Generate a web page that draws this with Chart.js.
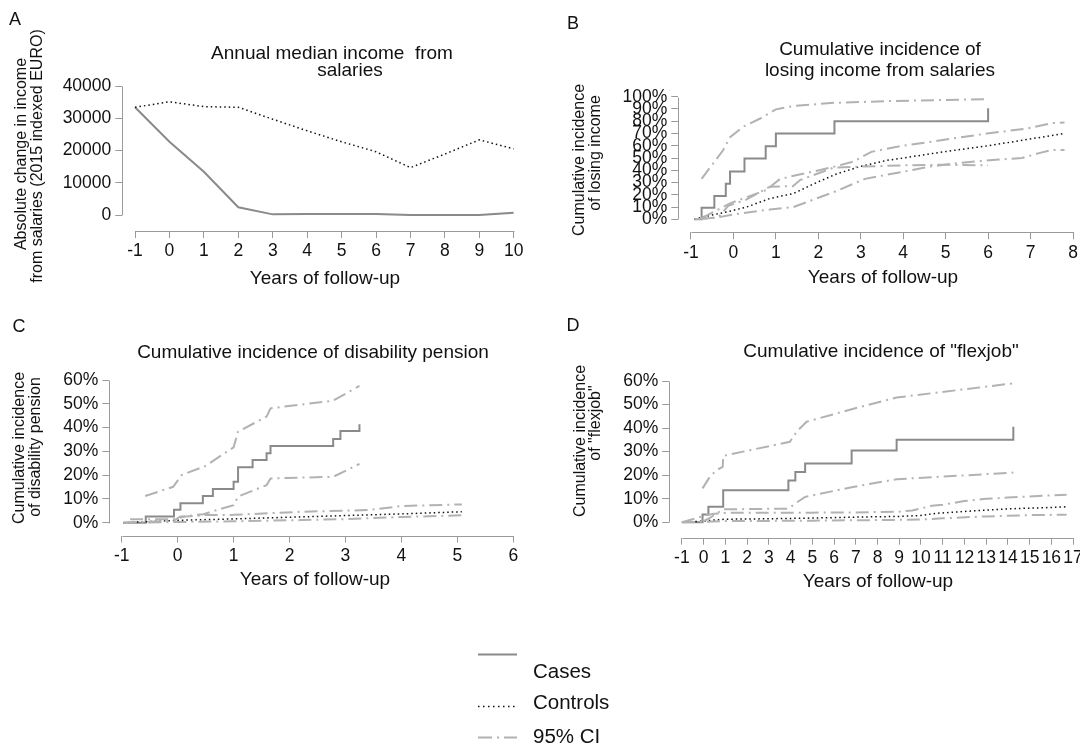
<!DOCTYPE html>
<html><head><meta charset="utf-8">
<script src="https://cdn.jsdelivr.net/npm/chart.js@4.4.1/dist/chart.umd.min.js"></script>
<style>
html,body{margin:0;padding:0;background:#fff;}
#wrap{position:relative;width:1080px;height:744px;overflow:hidden;font-family:"Liberation Sans",Arial,sans-serif;color:#111;}
canvas{position:absolute;left:0;top:0;}
.t{position:absolute;white-space:nowrap;transform:translate(-50%,-50%);line-height:1;}
.r{transform:translate(-50%,-50%) rotate(-90deg);}
.h{font-size:19px;}
.y{font-size:16px;}
.l{font-size:18px;}
.lg{position:absolute;white-space:nowrap;line-height:1;font-size:20.5px;transform:translate(0,-50%);}
svg{position:absolute;left:0;top:0;}
</style></head><body><div id="wrap">
<canvas id="cA" width="1080" height="744"></canvas>
<canvas id="cB" width="1080" height="744"></canvas>
<canvas id="cC" width="1080" height="744"></canvas>
<canvas id="cD" width="1080" height="744"></canvas>

<div class="t l" style="left:15px;top:19px">A</div>
<div class="t l" style="left:573px;top:23px">B</div>
<div class="t l" style="left:19px;top:326px">C</div>
<div class="t l" style="left:573px;top:325px">D</div>

<div class="t h" style="left:332px;top:52px">Annual median income&nbsp; from</div>
<div class="t h" style="left:350px;top:69px">salaries</div>
<div class="t h" style="left:880px;top:48px">Cumulative incidence of</div>
<div class="t h" style="left:880px;top:69px">losing income from salaries</div>
<div class="t h" style="left:313px;top:351px">Cumulative incidence of disability pension</div>
<div class="t h" style="left:881px;top:350px">Cumulative incidence of "flexjob"</div>

<div class="t h" style="left:325px;top:277px">Years of follow-up</div>
<div class="t h" style="left:883px;top:276px">Years of follow-up</div>
<div class="t h" style="left:315px;top:578px">Years of follow-up</div>
<div class="t h" style="left:878px;top:580px">Years of follow-up</div>

<div class="t y r" style="left:21px;top:154px">Absolute change in income</div>
<div class="t y r" style="left:37px;top:156px">from salaries (2015 indexed EURO)</div>
<div class="t y r" style="left:579px;top:160px">Cumulative incidence</div>
<div class="t y r" style="left:595px;top:153px">of losing income</div>
<div class="t y r" style="left:19px;top:448px">Cumulative incidence</div>
<div class="t y r" style="left:34.5px;top:447px">of disability pension</div>
<div class="t y r" style="left:580px;top:441px">Cumulative incidence</div>
<div class="t y r" style="left:595px;top:423px">of "flexjob"</div>

<svg width="1080" height="744">
<line x1="478" y1="654.5" x2="517" y2="654.5" stroke="#8a8a8a" stroke-width="2"/>
<line x1="478" y1="706.5" x2="517" y2="706.5" stroke="#111" stroke-width="1.5" stroke-dasharray="1.5 3.5"/>
<line x1="478" y1="737.5" x2="517" y2="737.5" stroke="#b2b2b2" stroke-width="2" stroke-dasharray="14 5 2 5"/>
</svg>
<div class="lg" style="left:533px;top:671px">Cases</div>
<div class="lg" style="left:533px;top:702px">Controls</div>
<div class="lg" style="left:533px;top:736px">95% CI</div>
</div>
<script>
// ---------- Panel A : annual median income ----------
const aYears    = [-1, 0, 1, 2, 3, 4, 5, 6, 7, 8, 9, 10];
const aCases    = [33400, 22700, 13400, 2400, 200, 300, 300, 300, 0, 0, 0, 700];
const aControls = [33400, 35100, 33600, 33400, 29700, 26100, 22700, 19600, 14700, 18900, 23300, 20500];
const aXTicks   = [-1, 0, 1, 2, 3, 4, 5, 6, 7, 8, 9, 10];
const aYTicks   = [0, 10000, 20000, 30000, 40000];

// ---------- Panel B : losing income from salaries ----------
const bXTicks = [-1, 0, 1, 2, 3, 4, 5, 6, 7, 8];
const bYTicks = [0, 10, 20, 30, 40, 50, 60, 70, 80, 90, 100];
const bCasesT = [-0.92, -0.75, -0.45, -0.18, -0.08, 0.26, 0.76, 1.0, 2.38, 6.0];
const bCasesP = [0, 9.5, 19, 29, 39, 49.5, 59.5, 70, 80, 90.5];
const bCasesHiT = [-0.75, -0.24, -0.08, 0.23, 0.62, 1.0, 1.41, 2.38, 3.76, 6.0];
const bCasesHiP = [33, 56.5, 67, 75.5, 82, 89.7, 92.4, 95, 96.5, 98];
const bCasesLoT = [-0.75, -0.36, -0.12, 0.3, 0.86, 1.4, 1.57, 2.35, 3.0, 4.0, 5.0, 6.0];
const bCasesLoP = [0.5, 1.5, 11, 16, 26.6, 27, 32, 42, 43, 44, 44.5, 44];
const bCtrlT = [-0.92, -0.71, -0.16, 0.31, 0.86, 1.41, 1.96, 2.43, 2.98, 3.6, 4.0, 4.94, 6.0, 6.9, 7.8];
const bCtrlP = [0, 2, 6, 10, 17, 21, 30, 37, 43, 48, 50, 55, 60, 65, 70];
const bCtrlHiT = [-0.75, -0.08, 0.78, 1.1, 1.88, 2.27, 2.82, 3.25, 3.99, 5.0, 5.97, 6.91, 7.52, 7.8];
const bCtrlHiP = [1, 13, 24, 33, 39, 42, 47, 55, 60, 65, 70, 74, 78.5, 79];
const bCtrlLoT = [-0.92, -0.36, 0.0, 0.86, 1.41, 2.35, 3.1, 4.0, 4.63, 5.33, 6.1, 6.8, 7.2, 7.5, 7.8];
const bCtrlLoP = [0, 1.6, 4, 8, 10, 22, 33, 38.8, 43, 46, 48.4, 50, 54, 56.5, 56.5];

// ---------- Panel C : disability pension ----------
const cXTicks = [-1, 0, 1, 2, 3, 4, 5, 6];
const cYTicks = [0, 10, 20, 30, 40, 50, 60];
const cCasesT = [-0.97, -0.57, -0.065, 0.05, 0.45, 0.63, 1.0, 1.08, 1.34, 1.59, 1.66, 2.78, 2.91, 3.25];
const cCasesP = [0, 2.6, 5.4, 8.2, 11.2, 14.2, 17.2, 23.3, 26.4, 29.2, 32.2, 35.2, 38.6, 41.4];
const cCasesHiT = [-0.58, -0.08, 0.07, 0.49, 1.0, 1.08, 1.59, 1.66, 2.78, 3.25];
const cCasesHiP = [11.2, 15.1, 20, 23.8, 31.7, 38.3, 44.6, 48.1, 51.3, 57.5];
const cCasesLoT = [-0.97, -0.07, 0.04, 0.46, 1.0, 1.08, 1.59, 1.66, 2.78, 3.25];
const cCasesLoP = [0, 0.8, 2.5, 3.6, 7.4, 11, 15.8, 18.6, 19.3, 24.7];
const cCtrlT = [-0.97, 0, 1, 2, 3, 4, 5.08];
const cCtrlP = [0, 1.0, 1.6, 2.3, 3.0, 3.7, 4.6];
const cCtrlHiT = [-0.85, -0.05, 0.1, 0.5, 1, 2.2, 3.4, 4.0, 5.08];
const cCtrlHiP = [1.4, 1.4, 2.5, 3.2, 3.3, 4.6, 5.3, 7.0, 7.7];
const cCtrlLoT = [-0.97, 0, 1, 2.2, 3, 4, 5.08];
const cCtrlLoP = [0, 0.3, 0.6, 1.1, 1.5, 2.4, 3.1];

// ---------- Panel D : flexjob ----------
const dXTicks = [-1, 0, 1, 2, 3, 4, 5, 6, 7, 8, 9, 10, 11, 12, 13, 14, 15, 16, 17];
const dYTicks = [0, 10, 20, 30, 40, 50, 60];
const dCasesT = [-1, -0.05, 0.22, 0.9, 3.9, 4.22, 4.67, 6.81, 8.88, 14.25];
const dCasesP = [0, 3.3, 6.6, 13.6, 17.7, 21.4, 25, 30.5, 35, 40.6];
const dCasesHiT = [-0.05, 0.29, 0.6, 0.88, 0.9, 3.97, 4.28, 4.74, 6.81, 8.88, 14.25];
const dCasesHiP = [14.4, 19.4, 22.2, 23.5, 28.2, 34.2, 38.5, 42.7, 48, 53, 59];
const dCasesLoT = [-0.05, 0.22, 0.9, 3.9, 4.22, 4.67, 6.81, 8.88, 14.25];
const dCasesLoP = [0.3, 1.5, 5.5, 5.8, 8, 10.8, 14.9, 18.3, 21.1];
const dCtrlT = [-1, 0, 0.5, 1, 3, 5, 7, 9, 10, 10.7, 12, 13, 14, 15, 16, 16.7];
const dCtrlP = [0, 0.5, 1.0, 1.3, 1.5, 1.8, 2.2, 2.5, 2.9, 3.8, 4.6, 5.2, 5.7, 6.0, 6.3, 6.6];
const dCtrlHiT = [-1, -0.1, 0.2, 0.5, 1, 3, 5, 7, 9, 9.6, 10.5, 11, 12, 13, 14, 15, 16.7];
const dCtrlHiP = [0, 2.4, 3.2, 3.6, 4.0, 4.1, 4.1, 4.2, 4.5, 5.0, 7.0, 7.5, 9.0, 10.0, 10.5, 11.0, 11.7];
const dCtrlLoT = [-1, 0, 1, 5, 8.7, 10, 11, 13, 15.2, 16.7];
const dCtrlLoP = [0, 0.2, 0.5, 0.7, 1.0, 1.2, 1.7, 2.5, 3.1, 3.2];

// ---------- rendering ----------
const FONT = '"Liberation Sans", Arial, sans-serif';
const AXC = '#9a9a9a';
const CASE = {borderColor: '#8a8a8a', borderWidth: 2};
const CTRL = {borderColor: '#111111', borderWidth: 1.5, borderDash: [1.5, 3]};
const CI   = {borderColor: '#b2b2b2', borderWidth: 2, borderDash: [13, 5, 2, 5]};

function xy(t, p) { return t.map((v, i) => ({x: v, y: p[i]})); }
function ds(t, p, style, stepped) {
  return Object.assign({data: xy(t, p), stepped: !!stepped, pointRadius: 0, borderCapStyle: 'butt', fill: false, tension: 0}, style);
}

const rAxes = {
  id: 'rAxes',
  afterDraw(chart) {
    const {ctx, chartArea: a, scales: {x, y}} = chart;
    const xs = x.ticks, ys = y.ticks;
    ctx.save();
    ctx.strokeStyle = AXC; ctx.lineWidth = 1; ctx.setLineDash([]);
    ctx.beginPath();
    const by = Math.round(a.bottom) + 0.5;
    ctx.moveTo(Math.round(x.getPixelForValue(xs[0].value)) + 0.5, by);
    ctx.lineTo(Math.round(x.getPixelForValue(xs[xs.length - 1].value)) + 0.5, by);
    const lx = Math.round(a.left) + 0.5;
    ctx.moveTo(lx, Math.round(y.getPixelForValue(ys[0].value)) + 0.5);
    ctx.lineTo(lx, Math.round(y.getPixelForValue(ys[ys.length - 1].value)) + 0.5);
    ctx.stroke();
    ctx.restore();
  }
};

function panel(id, area, xr, xt, yr, yt, yfmt, datasets) {
  const YW = 80, XH = 40;
  return new Chart(document.getElementById(id), {
    type: 'line',
    data: {datasets},
    options: {
      responsive: false, animation: false, devicePixelRatio: 1,
      layout: {padding: {left: area.l - YW, top: area.t, right: 1080 - area.r, bottom: 744 - area.b - XH}},
      plugins: {legend: {display: false}, tooltip: {enabled: false}, title: {display: false}},
      elements: {point: {radius: 0}, line: {tension: 0}},
      scales: {
        x: {
          type: 'linear', min: xr[0], max: xr[1],
          afterBuildTicks: s => { s.ticks = xt.map(v => ({value: v})); },
          afterFit: s => { s.height = XH; s.paddingLeft = 0; s.paddingRight = 0; },
          grid: {drawOnChartArea: false, drawTicks: true, tickLength: 7, color: AXC, lineWidth: 1},
          border: {display: false},
          ticks: {autoSkip: false, maxRotation: 0, minRotation: 0, padding: 3, color: '#111',
                  font: {family: FONT, size: 17.5}, callback: v => String(v)}
        },
        y: {
          type: 'linear', min: yr[0], max: yr[1],
          afterBuildTicks: s => { s.ticks = yt.map(v => ({value: v})); },
          afterFit: s => { s.width = YW; s.paddingTop = 0; s.paddingBottom = 0; },
          grid: {drawOnChartArea: false, drawTicks: true, tickLength: 7, color: AXC, lineWidth: 1},
          border: {display: false},
          ticks: {autoSkip: false, padding: 4, color: '#111',
                  font: {family: FONT, size: 17.5}, callback: yfmt}
        }
      }
    },
    plugins: [rAxes]
  });
}

const pct = v => v + '%';

panel('cA', {l: 122.3, t: 86, r: 513.8, b: 231}, [-1.369, 10], aXTicks, [-4961, 40000], aYTicks, v => String(v), [
  ds(aYears, aControls, CTRL),
  ds(aYears, aCases, CASE)
]);

panel('cB', {l: 678.3, t: 96.7, r: 1073, b: 232.3}, [-1.299, 8], bXTicks, [-10.6, 100], bYTicks, pct, [
  ds(bCtrlHiT, bCtrlHiP, CI),
  ds(bCtrlLoT, bCtrlLoP, CI),
  ds(bCasesHiT, bCasesHiP, CI),
  ds(bCasesLoT, bCasesLoP, CI),
  ds(bCtrlT, bCtrlP, CTRL),
  ds(bCasesT, bCasesP, CASE, true)
]);

panel('cC', {l: 109.4, t: 380, r: 513.3, b: 535.5}, [-1.22, 6], cXTicks, [-5.38, 60], cYTicks, pct, [
  ds(cCtrlHiT, cCtrlHiP, CI),
  ds(cCtrlLoT, cCtrlLoP, CI),
  ds(cCasesHiT, cCasesHiP, CI),
  ds(cCasesLoT, cCasesLoP, CI),
  ds(cCtrlT, cCtrlP, CTRL),
  ds(cCasesT, cCasesP, CASE, true)
]);

panel('cD', {l: 669.2, t: 381, r: 1073.1, b: 537.7}, [-1.584, 17], dXTicks, [-6.54, 60], dYTicks, pct, [
  ds(dCtrlHiT, dCtrlHiP, CI),
  ds(dCtrlLoT, dCtrlLoP, CI),
  ds(dCasesHiT, dCasesHiP, CI),
  ds(dCasesLoT, dCasesLoP, CI),
  ds(dCtrlT, dCtrlP, CTRL),
  ds(dCasesT, dCasesP, CASE, true)
]);
</script>
</body></html>
